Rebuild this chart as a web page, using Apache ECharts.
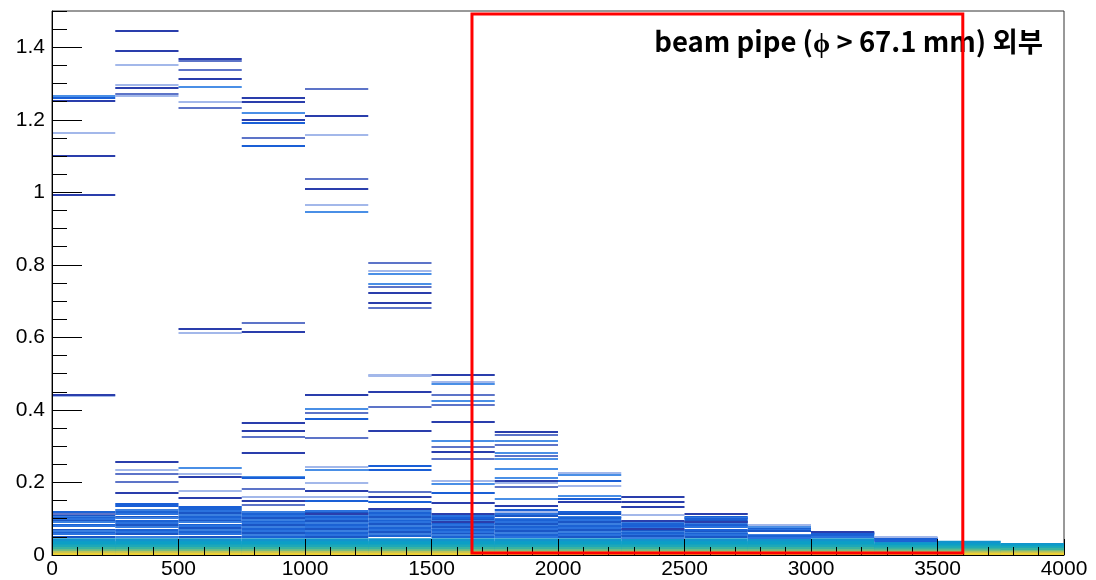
<!DOCTYPE html>
<html><head><meta charset="utf-8">
<script src="https://cdn.jsdelivr.net/npm/echarts@6/dist/echarts.min.js"></script>
<style>html,body{margin:0;padding:0;background:#fff}#c{width:1096px;height:580px}</style>
</head><body><div id="c"></div>
<script>
// bin edges of the histograms (x)
const binEdges = [0,250,500,750,1000,1250,1500,1750,2000,2250,2500,2750,3000,3250,3500,3750,4000];
const xTicks = [0,500,1000,1500,2000,2500,3000,3500,4000];
const yTicks = [0,0.2,0.4,0.6,0.8,1,1.2,1.4];
const labelText = 'beam pipe (ϕ > 67.1 mm) 외부';
const boxRange = [1660, 3600, 0.0055, 1.492]; // x0, x1, y0, y1

// upper histogram levels per bin, grouped by colour family
const darkLevels = [
  [1.252,1.101,0.993,0.442],
  [1.446,1.389,1.287,0.256,0.171],
  [1.368,1.313,0.622,0.216,0.156],
  [1.261,1.248,1.200,0.615,0.363,0.343,0.280,0.150],
  [1.211,1.010,0.440,0.176,0.113],
  [0.722,0.695,0.449,0.343,0.161,0.127],
  [0.497,0.366,0.283,0.143,0.113,0.090],
  [0.338,0.205,0.136],
  [0.145],
  [0.159,0.145,0.131,0.095,0.072],
  [0.113,0.090],
  [],
  [0.064],
  [],[],[]
];
const midLevels = [
  [0.112],
  [1.272,0.223,0.200],
  [1.337,1.232,1.363],
  [1.149,0.639,0.324,0.182,0.138],
  [1.285,1.037,0.391,0.322],
  [0.806,0.738,0.681,0.407,0.173],
  [0.441,0.414,0.299,0.265],
  [0.331,0.303,0.272,0.187],
  [],[],[],[],[],[],[],[]
];
const skyLevels = [
  [1.267],
  [],
  [1.290,0.239],
  [1.220,0.216],
  [0.945,0.403,0.235],
  [0.775,0.748],
  [0.472,0.426,0.314,0.196],
  [0.314,0.281,0.265,0.237,0.212,0.154],
  [0.221,0.164],
  [],[],
  [0.076],
  [],[],[],[]
];
const lightLevels = [
  [1.164,0.438],
  [1.350,1.297,1.265,0.233],
  [1.249,0.612,0.223,0.177],
  [0.159],
  [1.158,0.966,0.242,0.199,0.159],
  [0.783,0.497,0.493],
  [0.476,0.205],
  [0.199,0.118],
  [0.226,0.190],
  [0.110],
  [],
  [0.084],
  [],
  [0.049],
  [],[]
];
const blueLevels = [
  [1.261],
  [0.141,0.134],
  [0.131],
  [1.192,1.127,0.212],
  [0.375,0.150],
  [0.245,0.233,0.145],
  [0.170,0.101],
  [0.125],
  [0.205,0.154,0.118],
  [0.081],
  [0.099,0.084,0.070],
  [],
  [0.058],
  [0.044],
  [],[]
];
// dense band of histograms just above the base
const bandLevels = [
  [0.118,0.114,0.110,0.106,0.102,0.098,0.094,0.090,0.083,0.079,0.070,0.066,0.062,0.058,0.050],
  [0.124,0.119,0.113,0.106,0.101,0.093,0.088,0.082,0.077,0.068,0.063,0.058,0.051],
  [0.127,0.122,0.117,0.111,0.106,0.100,0.095,0.090,0.084,0.079,0.074,0.068,0.063,0.057,0.051],
  [0.118,0.113,0.108,0.102,0.097,0.092,0.087,0.082,0.076,0.071,0.066,0.061,0.055,0.050],
  [0.120,0.116,0.109,0.104,0.098,0.093,0.088,0.083,0.078,0.072,0.067,0.061,0.056,0.050],
  [0.122,0.117,0.111,0.106,0.100,0.095,0.090,0.085,0.080,0.074,0.069,0.063,0.058,0.052],
  [0.107,0.097,0.094,0.086,0.082,0.078,0.073,0.068,0.064,0.059,0.054,0.050],
  [0.112,0.108,0.100,0.096,0.091,0.086,0.081,0.076,0.071,0.066,0.061,0.055,0.050],
  [0.112,0.106,0.101,0.096,0.090,0.085,0.080,0.075,0.069,0.064,0.059,0.054,0.049],
  [0.090,0.086,0.078,0.068,0.064,0.060,0.056,0.052,0.048],
  [0.106,0.102,0.095,0.087,0.080,0.076,0.066,0.062,0.058,0.054,0.050],
  [0.080,0.074,0.070,0.066,0.056,0.052,0.048],
  [0.061,0.057,0.053,0.049],
  [0.046,0.041,0.038],
  [],[]
];
// low-content histograms forming the base (teal -> yellow)
const baseTeal1  = [0.046,0.046,0.046,0.046,0.046,0.046,0.046,0.046,0.046,0.046,0.046,0.046,0.046,0.036,0.0395,0.033];
const baseTeal2  = [0.038,0.038,0.038,0.038,0.038,0.038,0.038,0.038,0.038,0.038,0.038,0.038,0.038,0.032,0.032,0.029];
const baseTeal3  = [0.029,0.029,0.029,0.029,0.029,0.029,0.029,0.029,0.029,0.029,0.029,0.029,0.029,0.027,0.026,0.024];
const baseGreen1 = [0.022,0.022,0.022,0.022,0.022,0.022,0.022,0.022,0.022,0.022,0.022,0.022,0.022,0.021,0.020,0.019];
const baseGreen2 = [0.016,0.016,0.016,0.016,0.016,0.016,0.016,0.016,0.016,0.016,0.016,0.016,0.016,0.015,0.015,0.014];
const baseYel1   = [0.011,0.011,0.011,0.011,0.011,0.011,0.011,0.011,0.011,0.011,0.011,0.011,0.011,0.010,0.010,0.010];
const baseYel2   = [0.006,0.006,0.006,0.006,0.006,0.006,0.006,0.006,0.006,0.006,0.006,0.006,0.006,0.006,0.006,0.006];

function segs(perBin){
  const out=[];
  perBin.forEach((vals,i)=>vals.forEach(v=>out.push([binEdges[i],binEdges[i+1],v])));
  return out;
}
function baseSegs(arr){ return arr.map((v,i)=>[binEdges[i],binEdges[i+1],v]); }

function lineSeries(name, perBin, colors){
  return {
    type:'custom', name, coordinateSystem:'cartesian2d', xAxisIndex:0, yAxisIndex:0,
    encode:{x:[0,1], y:2}, data:segs(perBin), silent:true, z:3,
    renderItem(params, api){
      const p0 = api.coord([api.value(0), api.value(2)]);
      const p1 = api.coord([api.value(1), api.value(2)]);
      const y = Math.round(p0[1]);
      return {type:'line', shape:{x1:p0[0], y1:y, x2:p1[0], y2:y},
        style:{stroke: colors[params.dataIndex % colors.length], lineWidth:2}};
    }
  };
}
function baseSeries(name, arr, color){
  return {
    type:'custom', name, coordinateSystem:'cartesian2d', xAxisIndex:0, yAxisIndex:0,
    encode:{x:[0,1], y:2}, data:baseSegs(arr), silent:true, z:2,
    renderItem(params, api){
      const p0 = api.coord([api.value(0), api.value(2)]);
      const p1 = api.coord([api.value(1), 0]);
      return {type:'rect', shape:{x:p0[0], y:p0[1], width:p1[0]-p0[0], height:p1[1]-p0[1]},
        style:{fill:color}};
    }
  };
}

const chart = echarts.init(document.getElementById('c'), null, {renderer:'canvas'});
const axisFont = {fontSize:21, color:'#000', fontFamily:'Liberation Sans, Arial, sans-serif'};
chart.setOption({
  animation:false,
  backgroundColor:'#fff',
  title:{text:labelText, right:53, top:28, padding:0,
    textStyle:{fontSize:27.5, fontWeight:'bold', color:'#000', fontFamily:'Noto Sans CJK KR'}},
  grid:{left:52, right:32, top:11, bottom:24, show:true, borderColor:'#333', borderWidth:1, backgroundColor:'transparent'},
  xAxis:{type:'value', min:0, max:4000, interval:500, z:10,
    axisLine:{show:true, lineStyle:{color:'#000', width:1}},
    axisTick:{show:true, inside:true, length:16, lineStyle:{color:'#000'}},
    minorTick:{show:true, splitNumber:5, length:8, lineStyle:{color:'#000'}},
    axisLabel:Object.assign({margin:4, formatter:v=>xTicks.includes(v)?String(v):''}, axisFont),
    splitLine:{show:false}},
  yAxis:[
    {type:'value', min:0, max:1.5, interval:0.2, position:'left', z:10,
     axisLine:{show:true, lineStyle:{color:'#000', width:1}},
     axisTick:{show:true, inside:true, length:30, lineStyle:{color:'#000'}},
     axisLabel:Object.assign({margin:7, showMaxLabel:false,
       formatter:v=>{const t=yTicks.find(k=>Math.abs(k-v)<1e-6); return t===undefined?'':String(t);}}, axisFont),
     splitLine:{show:false}},
    {type:'value', min:0, max:1.5, interval:0.05, position:'left', z:10,
     axisLine:{show:false}, axisTick:{show:true, inside:true, length:15, lineStyle:{color:'#000'}},
     axisLabel:{show:false}, splitLine:{show:false}}
  ],
  series:[
    baseSeries('t1', baseTeal1, '#1194cd'),
    baseSeries('t2', baseTeal2, '#0c9fc6'),
    baseSeries('t3', baseTeal3, '#1da8b8'),
    baseSeries('g1', baseGreen1, '#3ab3a0'),
    baseSeries('g2', baseGreen2, '#78be7e'),
    baseSeries('y1', baseYel1, '#bcc25a'),
    baseSeries('y2', baseYel2, '#ecd036'),
    lineSeries('band', bandLevels, ['#1b62d4','#2a72de','#1a56c6','#3a7fe0']),
    lineSeries('light', lightLevels, ['#a3b8ea']),
    lineSeries('sky', skyLevels, ['#4a8fe6']),
    lineSeries('mid', midLevels, ['#5d74c8']),
    lineSeries('blue', blueLevels, ['#1a5fd6']),
    lineSeries('dark', darkLevels, ['#2a3eac']),
    {type:'custom', name:'box', coordinateSystem:'cartesian2d', xAxisIndex:0, yAxisIndex:0,
     data:[boxRange], silent:true, z:20, encode:{x:[0,1], y:[2,3]},
     renderItem(params, api){
       const a = api.coord([api.value(0), api.value(3)]);
       const b = api.coord([api.value(1), api.value(2)]);
       return {type:'rect', shape:{x:a[0], y:a[1], width:b[0]-a[0], height:b[1]-a[1]},
         style:{fill:'none', stroke:'#ff0000', lineWidth:3}};
     }}
  ]
});
</script></body></html>
